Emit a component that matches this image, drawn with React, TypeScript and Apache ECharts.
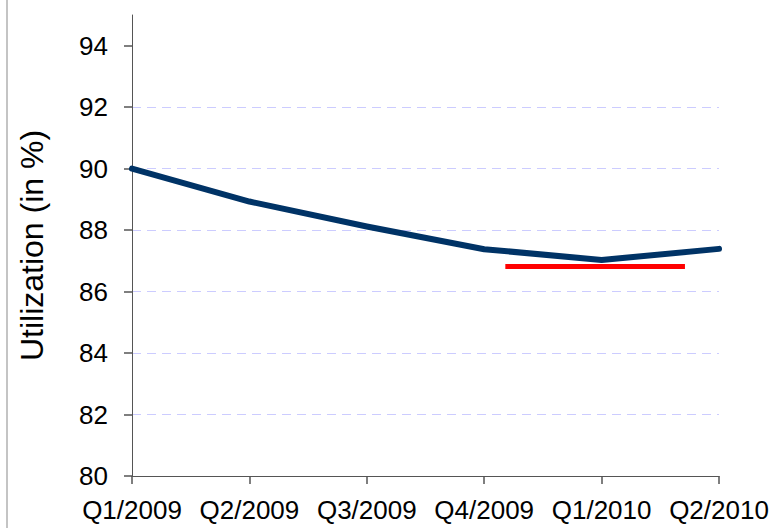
import React, { useEffect, useRef } from "react";
import * as echarts from "echarts";

const categories = ["Q1/2009", "Q2/2009", "Q3/2009", "Q4/2009", "Q1/2010", "Q2/2010"];
const utilization = [90.0, 88.93, 88.12, 87.38, 87.03, 87.39];
const yTicks = [80, 82, 84, 86, 88, 90, 92, 94];
const targetX = [3.18, 4.71];
const targetY = [86.82, 86.82];

export default function App() {
  const ref = useRef<HTMLDivElement>(null);
  useEffect(() => {
    if (!ref.current) return;
    const chart = echarts.init(ref.current, null, { renderer: "svg" });
    chart.setOption({
      animation: false,
      backgroundColor: "#ffffff",
      grid: { left: 132, right: 56, top: 15, bottom: 52 },
      graphic: [
        { type: "rect", shape: { x: 6, y: 0, width: 2, height: 528 }, style: { fill: "#c4c4c4" } },
      ],
      xAxis: [
        {
          type: "category",
          data: categories,
          boundaryGap: false,
          axisLine: { show: true, lineStyle: { color: "#555555", width: 1 } },
          axisTick: { show: true, inside: false, length: 8, lineStyle: { color: "#555555", width: 1.5 } },
          axisLabel: { color: "#000", fontSize: 26, fontFamily: "Liberation Sans", margin: 21, interval: 0 },
          splitLine: { show: false },
        },
        {
          type: "value",
          min: 0,
          max: 5,
          show: false,
          position: "bottom",
        },
      ],
      yAxis: {
        type: "value",
        min: 80,
        max: 95,
        interval: 2,
        name: "Utilization (in %)",
        nameLocation: "middle",
        nameGap: 84,
        nameTextStyle: { color: "#000", fontSize: 32, fontFamily: "Liberation Sans" },
        axisLine: { show: true, onZero: false, lineStyle: { color: "#555555", width: 1 } },
        axisTick: {
          show: true,
          inside: false,
          length: 8,
          customValues: yTicks,
          lineStyle: { color: "#555555", width: 1.5 },
        },
        axisLabel: {
          color: "#000",
          fontSize: 26,
          fontFamily: "Liberation Sans",
          margin: 24,
          formatter: (v: number) => (yTicks.indexOf(v) >= 0 ? String(v) : ""),
        },
        splitLine: {
          show: true,
          showMinLine: false,
          showMaxLine: false,
          lineStyle: { color: "#ccccff", type: [9, 6], width: 1 },
        },
      },
      series: [
        {
          type: "line",
          data: utilization,
          xAxisIndex: 0,
          symbol: "none",
          lineStyle: { color: "#003366", width: 6, cap: "round", join: "round" },
          z: 3,
        },
        {
          type: "line",
          data: targetX.map((x, i) => [x, targetY[i]]),
          xAxisIndex: 1,
          symbol: "none",
          lineStyle: { color: "#ff0000", width: 5 },
          z: 2,
        },
      ],
    });
    return () => chart.dispose();
  }, []);
  return (
    <div
      ref={ref}
      style={{ position: "fixed", left: 0, top: 0, width: 775, height: 528, background: "#fff" }}
    />
  );
}
